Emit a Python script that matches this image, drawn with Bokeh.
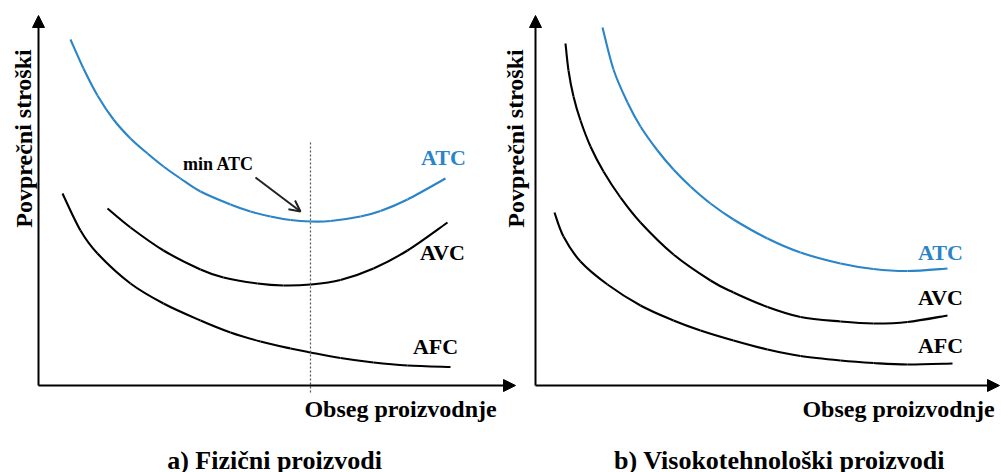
from bokeh.plotting import figure
from bokeh.models import Range1d, Arrow, NormalHead, OpenHead
from bokeh.core.properties import value
from bokeh.embed import file_html
from bokeh.resources import INLINE

# ---------------- data (quantity, average cost) ----------------
# a) physical products
a_atc_q = [3.2, 4.5, 5.9, 7.5, 9.2, 10.9, 12.5, 14.2, 16.2, 19.2, 21.2, 23.2, 25.2, 27.2, 29.2, 32.2, 34.2, 36.9, 40.7]
a_atc_c = [34.6, 31.7, 29.0, 26.6, 24.7, 23.2, 21.9, 20.7, 19.4, 18.1, 17.4, 16.9, 16.55, 16.4, 16.45, 16.9, 17.45, 18.6, 20.7]
a_avc_q = [6.9, 9.2, 12.5, 16.2, 18.5, 21.9, 24.5, 27.2, 30.2, 33.5, 36.9, 40.9]
a_avc_c = [17.7, 15.8, 13.5, 11.6, 10.8, 10.2, 10.0, 10.1, 10.55, 11.7, 13.5, 16.3]
a_afc_q = [2.4, 4.2, 5.9, 9.2, 12.5, 16.2, 19.2, 22.2, 25.2, 27.2, 30.2, 33.5, 36.9, 41.2]
a_afc_c = [19.2, 15.5, 13.2, 10.2, 8.2, 6.5, 5.3, 4.4, 3.7, 3.3, 2.75, 2.3, 2.0, 1.85]
a_min_atc_q = 27.2

# b) high-tech products
b_atc_q = [6.7, 7.8, 9.2, 10.5, 12.2, 13.8, 15.5, 17.5, 19.8, 23.2, 26.5, 30.5, 33.8, 37.2, 41.2]
b_atc_c = [35.8, 31.6, 28.3, 25.9, 23.5, 21.6, 19.9, 18.2, 16.6, 14.7, 13.3, 12.2, 11.65, 11.45, 11.7]
b_avc_q = [3.0, 3.3, 3.8, 4.5, 5.5, 6.8, 8.5, 10.5, 13.8, 17.5, 19.8, 23.2, 26.5, 30.5, 33.8, 37.2, 41.2]
b_avc_c = [34.2, 31.5, 28.9, 26.5, 23.9, 21.4, 18.8, 16.3, 13.1, 10.5, 9.3, 7.85, 6.85, 6.4, 6.2, 6.35, 7.0]
b_afc_q = [1.9, 2.8, 4.5, 7.2, 10.5, 13.8, 16.5, 19.8, 23.2, 26.5, 30.5, 33.8, 37.2, 41.7]
b_afc_c = [17.3, 14.9, 12.4, 10.1, 8.0, 6.5, 5.5, 4.5, 3.6, 2.95, 2.5, 2.25, 2.1, 2.2]

curve_names = ["ATC", "AVC", "AFC"]
y_title = "Povprečni stroški"
x_title = "Obseg proizvodnje"
panel_titles = ["a) Fizični proizvodi", "b) Visokotehnološki proizvodi"]

BLUE = "#2a84c8"
FONT = value("Liberation Serif")

p = figure(width=1000, height=472, output_backend="svg", toolbar_location=None,
           x_axis_location=None, y_axis_location=None,
           x_range=Range1d(-3.8, 96.2), y_range=Range1d(-8.7, 38.5),
           min_border=0, outline_line_color=None, background_fill_color="white",
           border_fill_color="white")
p.grid.visible = False
p.extra_x_ranges = {"b": Range1d(-53.5, 46.5)}


def smooth_curve(qs, cs, color, **kw):
    """Draw a smooth curve through the read points (Catmull-Rom as cubic Beziers)."""
    n = len(qs)
    x0, y0, x1, y1, cx0, cy0, cx1, cy1 = [], [], [], [], [], [], [], []
    for i in range(n - 1):
        pa = (qs[max(i - 1, 0)], cs[max(i - 1, 0)])
        pb = (qs[i], cs[i])
        pc = (qs[i + 1], cs[i + 1])
        pd = (qs[min(i + 2, n - 1)], cs[min(i + 2, n - 1)])
        x0.append(pb[0]); y0.append(pb[1]); x1.append(pc[0]); y1.append(pc[1])
        cx0.append(pb[0] + (pc[0] - pa[0]) / 6.0); cy0.append(pb[1] + (pc[1] - pa[1]) / 6.0)
        cx1.append(pc[0] - (pd[0] - pb[0]) / 6.0); cy1.append(pc[1] - (pd[1] - pb[1]) / 6.0)
    p.bezier(x0=x0, y0=y0, x1=x1, y1=y1, cx0=cx0, cy0=cy0, cx1=cx1, cy1=cy1,
             line_color=color, line_width=2.1, **kw)


def panel(rng, atc, avc, afc, lab_q, lab_c, xt_q, yt_q, title_q, title, x_end):
    kw = {} if rng == "default" else {"x_range_name": rng}
    # axes with arrow heads
    p.add_layout(Arrow(end=NormalHead(size=12, fill_color="black", line_color="black"),
                       x_start=0, y_start=0, x_end=0, y_end=37.0,
                       line_width=2, line_color="black", **kw))
    p.add_layout(Arrow(end=NormalHead(size=12, fill_color="black", line_color="black"),
                       x_start=0, y_start=0, x_end=x_end, y_end=0,
                       line_width=2, line_color="black", **kw))
    smooth_curve(atc[0], atc[1], BLUE, **kw)
    smooth_curve(avc[0], avc[1], "black", **kw)
    smooth_curve(afc[0], afc[1], "black", **kw)
    p.text(lab_q, lab_c, text=curve_names, text_font=FONT, text_font_style="bold",
           text_font_size="22px", text_align="center", text_baseline="middle",
           text_color=[BLUE, "black", "black"], **kw)
    p.text([xt_q], [-2.3], text=[x_title], text_font=FONT, text_font_style="bold",
           text_font_size="24px", text_align="center", text_baseline="middle",
           text_color="black", **kw)
    p.text([yt_q], [24.7], text=[y_title], text_font=FONT, text_font_style="bold",
           text_font_size="24px", text_align="center", text_baseline="middle",
           angle=1.5708, text_color="black", **kw)
    p.text([title_q], [-7.5], text=[title], text_font=FONT, text_font_style="bold",
           text_font_size="26px", text_align="center", text_baseline="alphabetic",
           text_color="black", **kw)


panel("default", (a_atc_q, a_atc_c), (a_avc_q, a_avc_c), (a_afc_q, a_afc_c),
      [40.5, 40.4, 39.7], [22.8, 13.3, 3.9], 36.2, -1.5, 23.6, panel_titles[0], 47.7)
panel("b", (b_atc_q, b_atc_c), (b_avc_q, b_avc_c), (b_afc_q, b_afc_c),
      [40.5, 40.5, 40.5], [13.3, 8.8, 4.0], 36.3, -2.0, 24.4, panel_titles[1], 46.4)

# min ATC marker (panel a)
p.segment(x0=[a_min_atc_q], y0=[24.3], x1=[a_min_atc_q], y1=[-0.8],
          line_color="#555555", line_width=1.2, line_dash="2 2")
p.add_layout(Arrow(end=OpenHead(size=11, line_width=2, line_color="#222222"),
                   x_start=21.7, y_start=20.8, x_end=26.2, y_end=17.4,
                   line_width=2, line_color="#222222"))
p.text([18.0], [22.2], text=["min ATC"], text_font=FONT, text_font_style="bold",
       text_font_size="18px", text_align="center", text_baseline="middle",
       text_color="black")

open("out.html", "w").write(file_html(p, INLINE))
